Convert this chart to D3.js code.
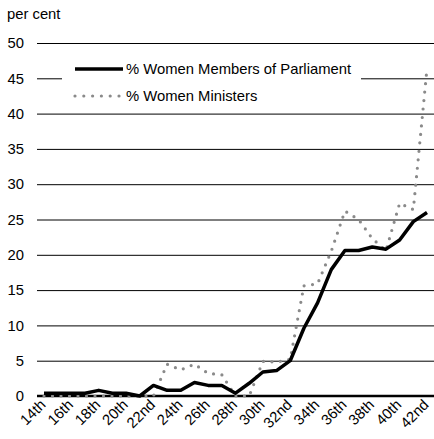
<!DOCTYPE html>
<html>
<head>
<meta charset="utf-8">
<script src="https://cdn.jsdelivr.net/npm/d3@7/dist/d3.min.js"></script>
<style>
  html, body { margin: 0; padding: 0; background: #fff; }
  svg { display: block; font-family: "Liberation Sans", Arial, sans-serif; }
</style>
</head>
<body>
<svg id="chart" width="434" height="439"></svg>
<script>
// Parliaments 14th–42nd
const parliaments = ["14th","15th","16th","17th","18th","19th","20th","21st","22nd","23rd",
  "24th","25th","26th","27th","28th","29th","30th","31st","32nd","33rd","34th","35th",
  "36th","37th","38th","39th","40th","41st","42nd"];

// Share of women among Members of Parliament (per cent)
const womenMPs = [0.4,0.4,0.4,0.4,0.8,0.4,0.4,0.0,1.5,0.8,0.8,1.9,1.5,1.5,0.4,1.8,
  3.4,3.6,5.0,9.6,13.2,17.9,20.6,20.6,21.1,20.8,22.1,24.7,26.0];

// Share of women among Ministers (per cent)
const womenMinisters = [0,0,0,0,0,0,0,0,0,4.5,3.7,4.5,3.2,3.0,0,0,
  4.9,4.8,5.2,15.6,15.9,20.5,26.2,25.0,22.3,20.6,27.3,26.4,46.4];

const yTicks = [0,5,10,15,20,25,30,35,40,45,50];
const xTickLabels = parliaments.filter((d, i) => i % 2 === 0);

const seriesNames = ["% Women Members of Parliament", "% Women Ministers"];

const svg = d3.select("#chart");
const FONT = 14.8;
const plotLeft = 37, plotRight = 434, plotTop = 43, plotBottom = 396;

const x = d3.scalePoint().domain(parliaments).range([44, 427]);
const y = d3.scaleLinear().domain([0, 50]).range([plotBottom, plotTop]);

// Horizontal gridlines with value labels
const yAxis = svg.append("g")
  .attr("transform", `translate(${plotLeft},0)`)
  .call(d3.axisLeft(y).tickValues(yTicks).tickSize(-(plotRight - plotLeft)).tickPadding(13));
yAxis.select(".domain").remove();
yAxis.selectAll(".tick line").attr("stroke", "#000").attr("stroke-width", 1);
yAxis.selectAll(".tick text").attr("font-size", FONT).attr("fill", "#000")
  .attr("font-family", "Liberation Sans, Arial, sans-serif");

// Baseline
svg.append("line")
  .attr("x1", plotLeft).attr("x2", plotRight)
  .attr("y1", y(0)).attr("y2", y(0))
  .attr("stroke", "#000").attr("stroke-width", 2.5);

// Unit label
svg.append("text").attr("x", 7).attr("y", 19)
  .attr("font-size", FONT).text("per cent");

// Category labels, rotated
const xAxis = svg.append("g");
xAxis.selectAll("text").data(xTickLabels).join("text")
  .attr("transform", d => `translate(${x(d) - 1},${plotBottom + 6}) rotate(-45)`)
  .attr("text-anchor", "end")
  .attr("dy", "0.35em")
  .attr("font-size", FONT)
  .text(d => d);

const line = d3.line()
  .x((d, i) => x(parliaments[i]))
  .y(d => y(d));

// Women Ministers: grey dotted line
svg.append("path")
  .datum(womenMinisters)
  .attr("d", line)
  .attr("fill", "none")
  .attr("stroke", "#8a8a8a")
  .attr("stroke-width", 3.2)
  .attr("stroke-linecap", "round")
  .attr("stroke-dasharray", "0 8.5");

// Women MPs: solid black line
svg.append("path")
  .datum(womenMPs)
  .attr("d", line)
  .attr("fill", "none")
  .attr("stroke", "#000")
  .attr("stroke-width", 3.5)
  .attr("stroke-linejoin", "round");

// Legend
const legend = svg.append("g");
legend.append("rect")
  .attr("x", 62).attr("y", 56).attr("width", 299).attr("height", 48)
  .attr("fill", "#fff");
legend.append("line")
  .attr("x1", 75).attr("x2", 123).attr("y1", 69).attr("y2", 69)
  .attr("stroke", "#000").attr("stroke-width", 3.5);
legend.append("line")
  .attr("x1", 75).attr("x2", 120).attr("y1", 96).attr("y2", 96)
  .attr("stroke", "#8a8a8a").attr("stroke-width", 3.2)
  .attr("stroke-linecap", "round").attr("stroke-dasharray", "0 8.8");
legend.selectAll("text.lbl").data(seriesNames).join("text")
  .attr("class", "lbl")
  .attr("x", 126)
  .attr("y", (d, i) => 74 + i * 27)
  .attr("font-size", FONT)
  .text(d => d);
</script>
</body>
</html>
